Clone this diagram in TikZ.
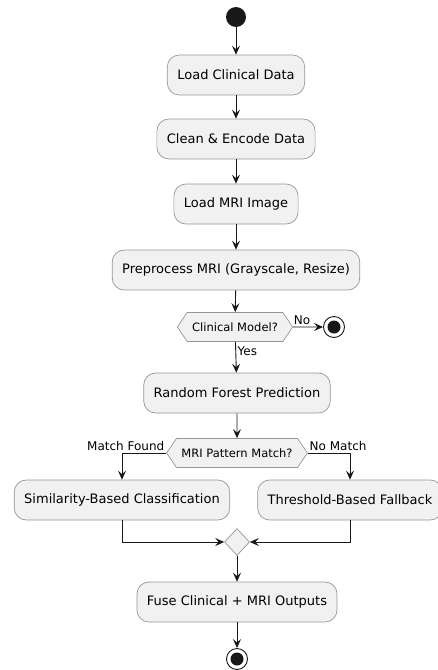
\documentclass[tikz,border=0pt]{standalone}
\usepackage{fontspec}
\setmainfont{DejaVu Sans}
\usetikzlibrary{arrows.meta, shapes.geometric, shapes.symbols}
\definecolor{umlfill}{RGB}{241,241,241}
\definecolor{umlline}{RGB}{24,24,24}
\definecolor{umlborder}{RGB}{150,150,150}

\begin{document}
\begin{tikzpicture}[
    x=1pt, y=-1pt,
    action/.style={rectangle, rounded corners=12pt, draw=umlborder, fill=umlfill, line width=0.7pt,
        minimum height=40pt, inner xsep=10pt, font=\fontsize{13}{15}\selectfont},
    choice/.style={signal, signal to=west and east, signal pointer angle=112, draw=umlborder, fill=umlfill,
        line width=0.7pt, minimum height=29pt, inner xsep=5pt, font=\fontsize{11.5}{13}\selectfont},
    startdot/.style={circle, fill=umlline, minimum size=20pt, inner sep=0pt},
    enddot/.style={circle, draw=umlline, line width=0.9pt, fill=white, minimum size=21pt, inner sep=0pt,
        path picture={\fill[umlline] (path picture bounding box.center) circle (6.5pt);}},
    merge/.style={diamond, draw=umlborder, fill=umlfill, line width=0.7pt, minimum width=25pt, minimum height=27pt, inner sep=0pt},
    flow/.style={draw=umlline, line width=0.9pt, -{Stealth[length=9pt, width=8pt, inset=3.5pt]}},
    lbl/.style={font=\fontsize{12}{14}\selectfont, inner sep=1.5pt}
]
\useasboundingbox (0,0) rectangle (437,670);

% === Preparacion de datos ===
\node[startdot] (start) at (236,17) {};
\node[action] (load) at (236,75) {Load Clinical Data};
\node[action] (clean) at (236,139) {Clean \& Encode Data};
\node[action] (mri) at (236,204) {Load MRI Image};
\node[action] (prep) at (236,270) {Preprocess MRI (Grayscale, Resize)};

% === Decisiones ===
\node[choice] (clin) at (235,327) {Clinical Model?};
\node[enddot] (stop1) at (334,327) {};
\node[action] (rf) at (237,393) {Random Forest Prediction};
\node[choice] (pat) at (237,453) {MRI Pattern Match?};

% === Ramas y fusion ===
\node[action] (sim) at (122,500) {Similarity-Based Classification};
\node[action] (thr) at (350,500) {Threshold-Based Fallback};
\node[merge] (join) at (237,542) {};
\node[action] (fuse) at (237,602) {Fuse Clinical + MRI Outputs};
\node[enddot] (stop2) at (237,659) {};

\draw[flow] (start) -- (load);
\draw[flow] (load) -- (clean);
\draw[flow] (clean) -- (mri);
\draw[flow] (mri) -- (prep);
\draw[flow] (prep) -- (clin);
\draw[flow] (clin) -- node[lbl, above, pos=0.3] {No} (stop1);
\draw[flow] (clin) -- node[lbl, right, pos=0.3] {Yes} (rf);
\draw[flow] (rf) -- (pat);
\draw[flow] (pat.west) -| node[lbl, anchor=south east, pos=0] {Match Found} (sim);
\draw[flow] (pat.east) -| node[lbl, anchor=south west, pos=0] {No Match} (thr);
\draw[flow] (sim) |- (join);
\draw[flow] (thr) |- (join);
\draw[flow] (join) -- (fuse);
\draw[flow] (fuse) -- (stop2);

\end{tikzpicture}
\end{document}
